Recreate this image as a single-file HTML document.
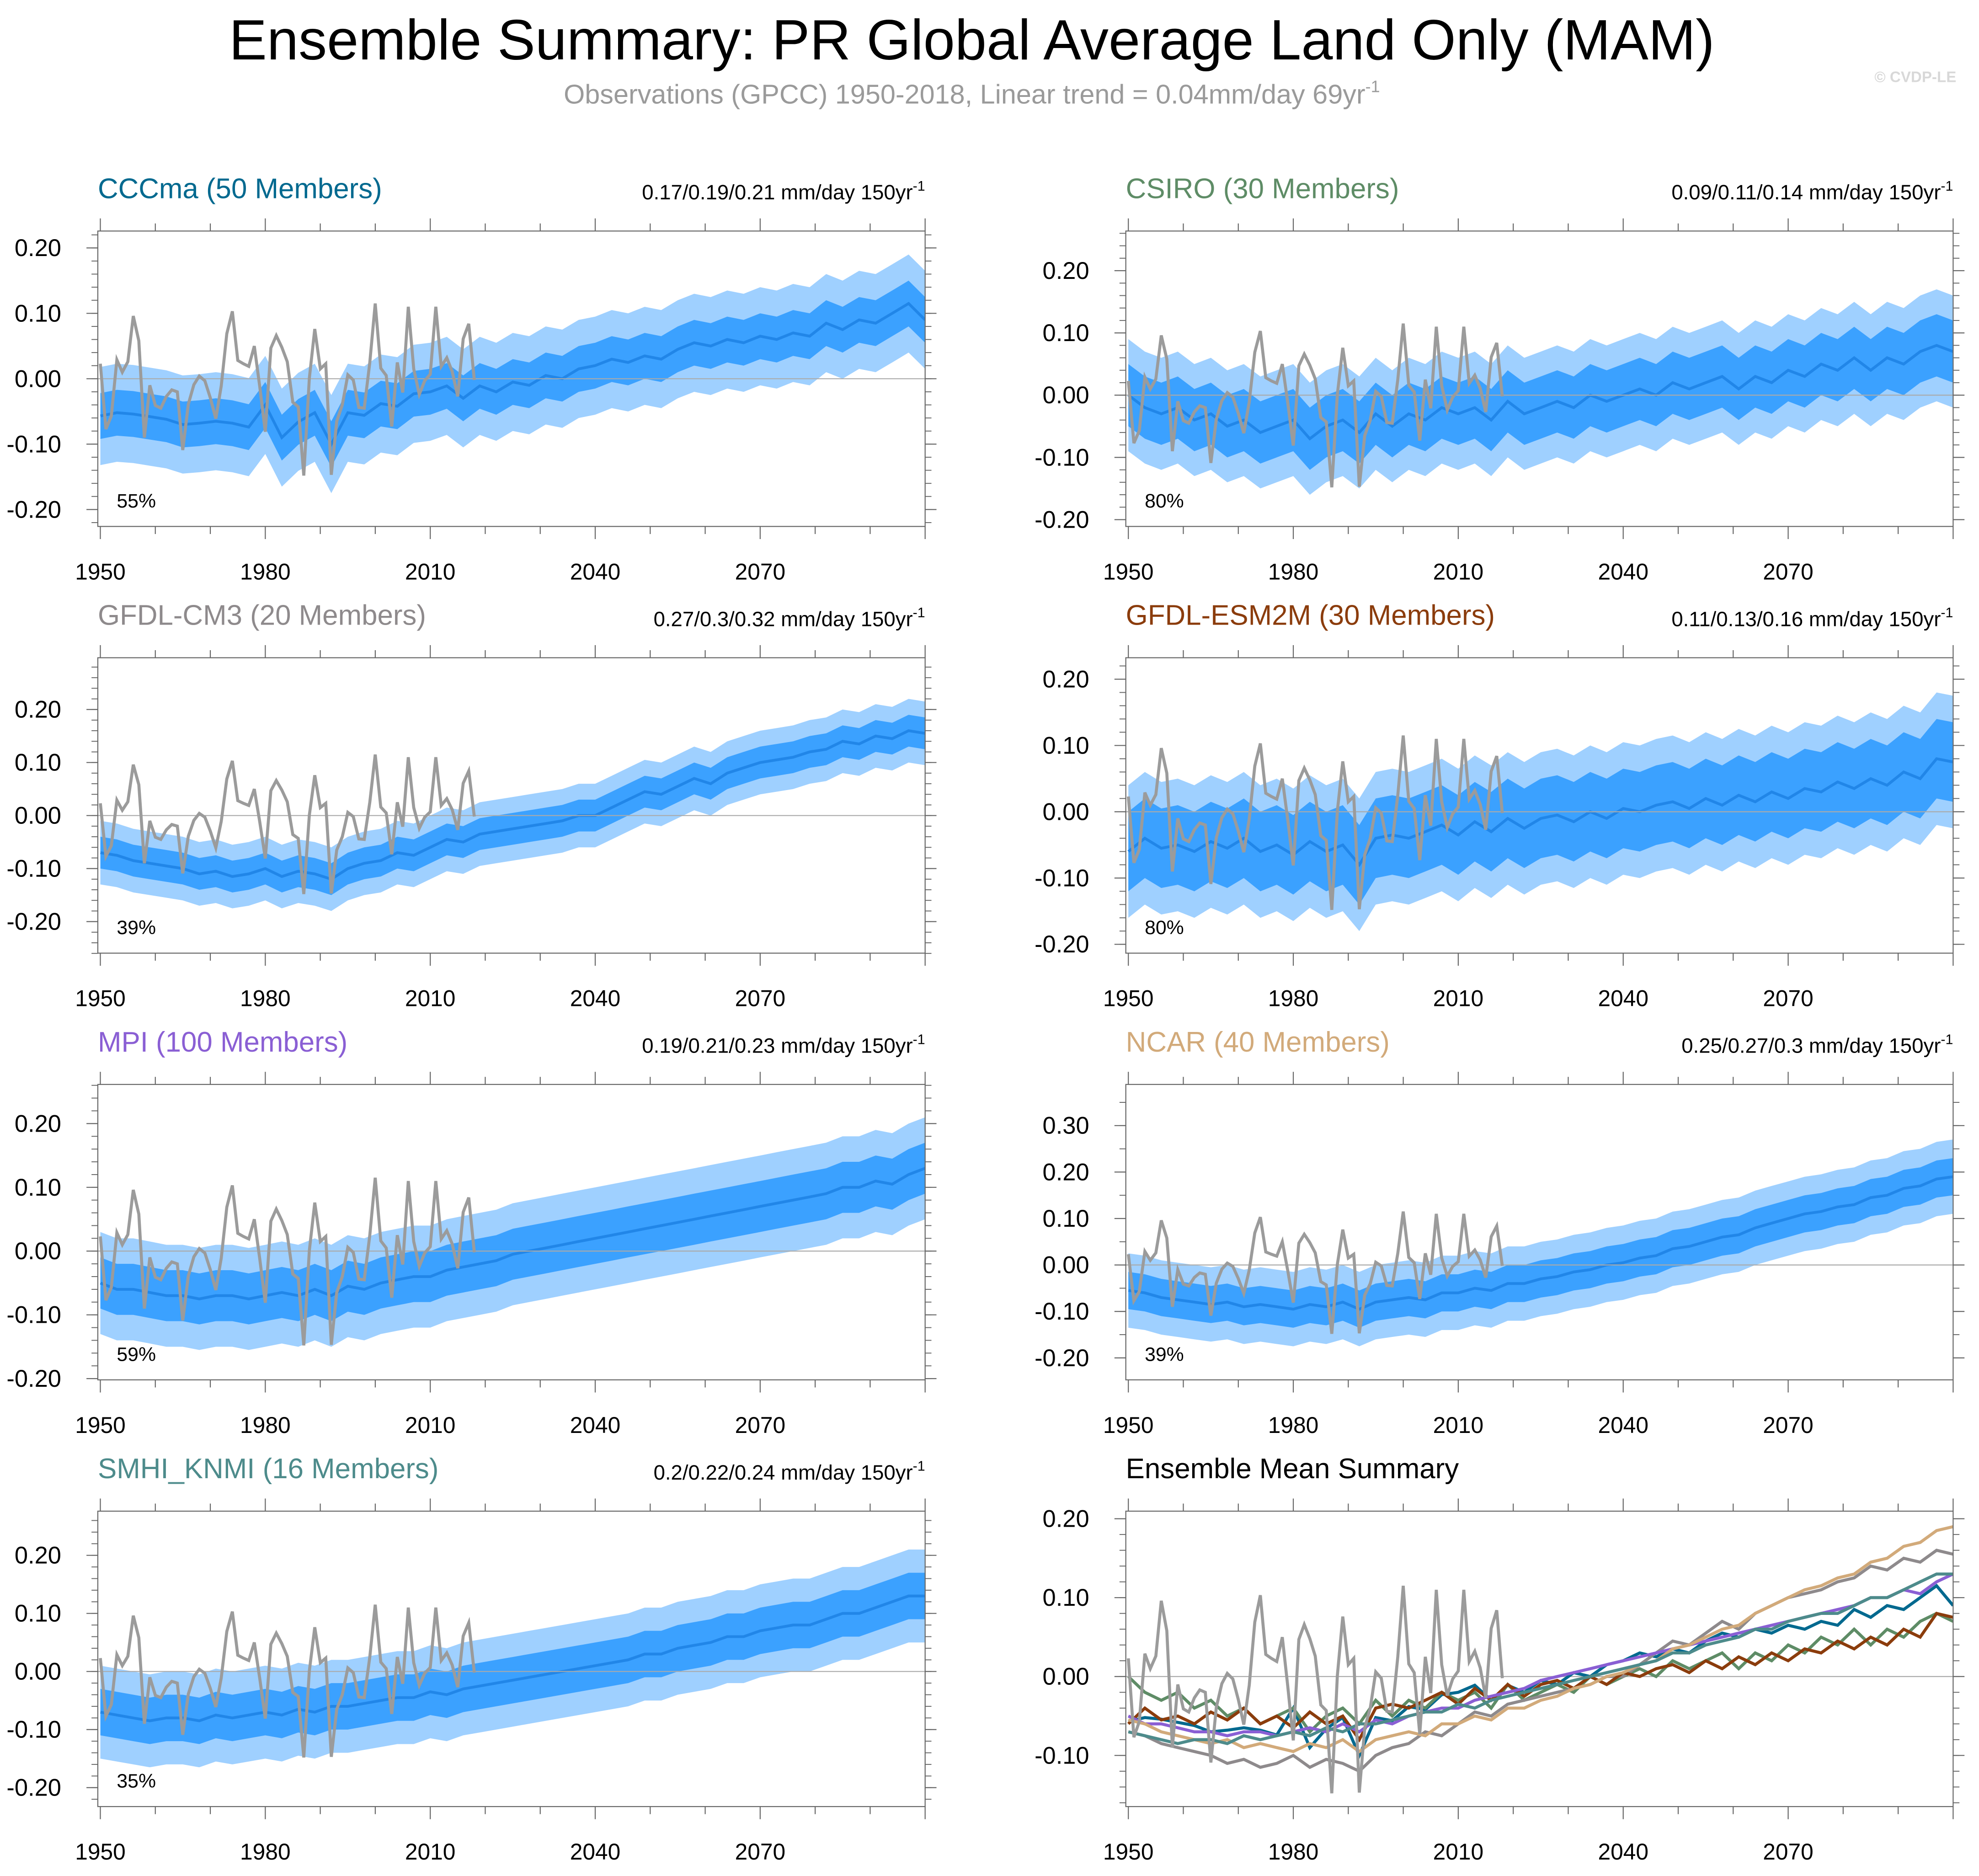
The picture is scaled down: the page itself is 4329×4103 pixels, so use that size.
<!DOCTYPE html>
<html><head><meta charset="utf-8"><title>Ensemble Summary: PR Global Average Land Only (MAM)</title>
<style>html,body{margin:0;padding:0;background:#fff;}svg{display:block;font-family:"Liberation Sans",Arial,sans-serif;}</style>
</head><body>
<svg id="chart" width="4329" height="4103" viewBox="0 0 1568 1486" preserveAspectRatio="none" xmlns="http://www.w3.org/2000/svg">
<text x="770" y="47" font-size="45" text-anchor="middle" fill="#000">Ensemble Summary: PR Global Average Land Only (MAM)</text>
<text x="770" y="82" font-size="21.5" text-anchor="middle" fill="#9a9a9a">Observations (GPCC) 1950-2018, Linear trend = 0.04mm/day 69yr<tspan font-size="13" dy="-9">-1</tspan></text>
<text x="1550" y="65" font-size="12" font-weight="bold" text-anchor="end" fill="#d8d8d8">© CVDP-LE</text>
</svg>
<script>
const obsValues=[0.023,-0.077,-0.057,0.029,0.010,0.026,0.096,0.058,-0.090,-0.010,
-0.041,-0.045,-0.027,-0.017,-0.020,-0.109,-0.039,-0.009,0.004,-0.003,
-0.029,-0.061,-0.011,0.069,0.103,0.028,0.023,0.019,0.050,-0.012,
-0.081,0.047,0.066,0.048,0.026,-0.036,-0.043,-0.148,0.001,0.076,
0.015,0.023,-0.147,-0.065,-0.040,0.006,-0.002,-0.044,-0.045,0.025,
0.115,0.016,0.005,-0.073,0.025,-0.021,0.110,0.015,-0.024,-0.003,
0.007,0.110,0.019,0.032,0.011,-0.027,0.061,0.084,-0.002];
const modelNames=["CCCma (50 Members)","CSIRO (30 Members)","GFDL-CM3 (20 Members)","GFDL-ESM2M (30 Members)","MPI (100 Members)","NCAR (40 Members)","SMHI_KNMI (16 Members)"];
const trendLabels=["0.17/0.19/0.21 mm/day 150yr","0.09/0.11/0.14 mm/day 150yr","0.27/0.3/0.32 mm/day 150yr","0.11/0.13/0.16 mm/day 150yr","0.19/0.21/0.23 mm/day 150yr","0.25/0.27/0.3 mm/day 150yr","0.2/0.22/0.24 mm/day 150yr"];
const pctLabels=["55%","80%","39%","80%","59%","39%","35%"];
const meanCCCma=[-0.057,-0.052,-0.054,-0.058,-0.062,-0.070,-0.068,-0.065,-0.068,-0.074,-0.040,-0.090,-0.066,-0.052,-0.100,-0.052,-0.056,-0.038,-0.042,-0.023,-0.020,-0.011,-0.030,-0.011,-0.020,-0.005,-0.010,0.005,0.000,0.015,0.020,0.030,0.025,0.035,0.030,0.045,0.055,0.050,0.060,0.055,0.065,0.060,0.070,0.065,0.085,0.075,0.090,0.085,0.100,0.115,0.090];
const meanCSIRO=[0.000,-0.020,-0.030,-0.020,-0.040,-0.030,-0.050,-0.040,-0.060,-0.050,-0.040,-0.070,-0.050,-0.040,-0.060,-0.030,-0.050,-0.030,-0.040,-0.020,-0.030,-0.020,-0.040,-0.010,-0.030,-0.020,-0.010,-0.020,0.000,-0.010,0.000,0.010,0.000,0.020,0.010,0.020,0.030,0.010,0.030,0.020,0.040,0.030,0.050,0.040,0.060,0.040,0.060,0.050,0.070,0.080,0.070];
const meanGFDLCM3=[-0.070,-0.075,-0.085,-0.090,-0.095,-0.100,-0.110,-0.105,-0.115,-0.110,-0.100,-0.115,-0.105,-0.110,-0.120,-0.100,-0.090,-0.085,-0.070,-0.075,-0.060,-0.045,-0.050,-0.035,-0.030,-0.025,-0.020,-0.015,-0.010,0.000,0.000,0.015,0.030,0.045,0.040,0.055,0.070,0.060,0.080,0.090,0.100,0.105,0.110,0.120,0.125,0.140,0.135,0.150,0.145,0.160,0.155];
const meanGFDLESM2M=[-0.060,-0.040,-0.055,-0.050,-0.060,-0.045,-0.055,-0.040,-0.060,-0.050,-0.065,-0.045,-0.060,-0.050,-0.080,-0.040,-0.035,-0.040,-0.030,-0.020,-0.035,-0.015,-0.030,-0.010,-0.025,-0.010,-0.005,-0.015,0.000,-0.010,0.005,0.000,0.010,0.015,0.005,0.020,0.010,0.025,0.015,0.030,0.020,0.035,0.030,0.045,0.035,0.050,0.040,0.060,0.050,0.080,0.075];
const meanMPI=[-0.050,-0.060,-0.060,-0.065,-0.070,-0.070,-0.075,-0.070,-0.070,-0.075,-0.070,-0.065,-0.070,-0.060,-0.070,-0.055,-0.060,-0.050,-0.045,-0.040,-0.040,-0.030,-0.025,-0.020,-0.015,-0.005,0.000,0.005,0.010,0.015,0.020,0.025,0.030,0.035,0.040,0.045,0.050,0.055,0.060,0.065,0.070,0.075,0.080,0.085,0.090,0.100,0.100,0.110,0.105,0.120,0.130];
const meanNCAR=[-0.055,-0.060,-0.070,-0.075,-0.080,-0.085,-0.080,-0.090,-0.085,-0.090,-0.095,-0.085,-0.090,-0.080,-0.095,-0.080,-0.075,-0.070,-0.075,-0.060,-0.060,-0.050,-0.055,-0.040,-0.040,-0.030,-0.025,-0.015,-0.010,0.000,0.005,0.015,0.020,0.035,0.040,0.050,0.060,0.065,0.080,0.090,0.100,0.110,0.115,0.125,0.130,0.145,0.150,0.165,0.170,0.185,0.190];
const meanSMHI=[-0.070,-0.075,-0.080,-0.085,-0.080,-0.080,-0.085,-0.075,-0.080,-0.075,-0.070,-0.075,-0.065,-0.070,-0.060,-0.060,-0.055,-0.050,-0.045,-0.045,-0.035,-0.040,-0.030,-0.025,-0.020,-0.015,-0.010,-0.005,0.000,0.005,0.010,0.015,0.020,0.030,0.030,0.040,0.045,0.050,0.060,0.060,0.070,0.075,0.080,0.080,0.090,0.100,0.100,0.110,0.120,0.130,0.130];
const innerSpread=[0.035,0.05,0.03,0.06,0.04,0.04,0.04];
const outerSpread=[0.075,0.09,0.06,0.10,0.08,0.08,0.08];
const yTickLabels=[[0.2,0.1,0,-0.1,-0.2],[0.2,0.1,0,-0.1,-0.2],[0.2,0.1,0,-0.1,-0.2],[0.2,0.1,0,-0.1,-0.2],[0.2,0.1,0,-0.1,-0.2],[0.3,0.2,0.1,0,-0.1,-0.2],[0.2,0.1,0,-0.1,-0.2],[0.2,0.1,0,-0.1]];
const xTickLabels=[1950,1980,2010,2040,2070];
const means=[meanCCCma,meanCSIRO,meanGFDLCM3,meanGFDLESM2M,meanMPI,meanNCAR,meanSMHI];
const modelColors=["#00698f","#5e8c66","#8e8a8c","#8b3c0c","#8a5fd4","#d2aa7a","#4d8b8b"];
// layout (not data)
const panelLeft=[77.5,892,77.5,892,77.5,892,77.5,892];
const panelTop=[183,183,521,521,859,859,1197,1197];
const panelZero=[300,313,646,643,991,1002,1324,1328];
const panelScale=[518,493,420,525,505,368,460,625];
const PW=655.5,PH=234;
const NS='http://www.w3.org/2000/svg';
const svg=document.getElementById('chart');
function mk(tag,attrs,parent){const e=document.createElementNS(NS,tag);for(const k in attrs)e.setAttribute(k,attrs[k]);(parent||svg).appendChild(e);return e;}
function fmt(v){return (v<0?'-':'')+Math.abs(v).toFixed(2);}
function buildPanel(p){
  const g=mk('g',{});
  
  
  const L=panelLeft[p],T=panelTop[p];
  const xs=y=>L+2+(y-1950)*(PW-2)/150;
  const ys=v=>panelZero[p]-v*panelScale[p];
  const clip=mk('clipPath',{id:'clip'+p},g);mk('rect',{x:L,y:T,width:PW,height:PH},clip);
  const plot=mk('g',{'clip-path':'url(#clip'+p+')'},g);
  
  
  if(p<7){
    const m=means[p];
    const yrs=m.map((_,i)=>1950+i*3);
    [[outerSpread[p],'#9fd0ff','outer-spread-band'],[innerSpread[p],'#3ba1ff','inner-spread-band']].forEach(([s,c,n])=>{
      let d='M'+yrs.map((y,i)=>xs(y).toFixed(1)+','+ys(m[i]+s).toFixed(1)).join('L');
      for(let i=m.length-1;i>=0;i--)d+='L'+xs(yrs[i]).toFixed(1)+','+ys(m[i]-s).toFixed(1);
      const b=mk('path',{d:d+'Z',fill:c},plot);
      
      
    });
    const ml=mk('path',{d:'M'+yrs.map((y,i)=>xs(y).toFixed(1)+','+ys(m[i]).toFixed(1)).join('L'),fill:'none',stroke:'#2186e8','stroke-width':2.2},plot);
    
    
  }
  const z=mk('line',{x1:L,x2:L+PW,y1:ys(0),y2:ys(0),stroke:'#aaa','stroke-width':0.8},plot);
  
  
  if(p===7){
    means.forEach((m,k)=>{
      const yrs=m.map((_,i)=>1950+i*3);
      const l=mk('path',{d:'M'+yrs.map((y,i)=>xs(y).toFixed(1)+','+ys(m[i]).toFixed(1)).join('L'),fill:'none',stroke:modelColors[k],'stroke-width':2.4},plot);
      
      
    });
  }
  const ob=mk('path',{d:'M'+obsValues.map((v,i)=>xs(1950+i).toFixed(1)+','+ys(v).toFixed(1)).join('L'),fill:'none',stroke:'#9b9b9b','stroke-width':2.4},plot);
  
  
  const fr=mk('rect',{x:L,y:T,width:PW,height:PH,fill:'none',stroke:'#666','stroke-width':0.8},g);
  
  
  for(let y=1950;y<=2100;y+=10){
    const major=(y-1950)%30===0,len=major?10:6;
    mk('line',{x1:xs(y),x2:xs(y),y1:T,y2:T-len,stroke:'#666','stroke-width':0.8},g);
    mk('line',{x1:xs(y),x2:xs(y),y1:T+PH,y2:T+PH+len,stroke:'#666','stroke-width':0.8},g);
  }
  xTickLabels.forEach(y=>{const t=mk('text',{x:xs(y),y:T+PH+42,'font-size':18,'text-anchor':'middle'},g);t.textContent=y;
    
    });
  const step=p===5?0.05:0.02;
  for(let v=-0.4;v<=0.4001;v+=step){const yy=ys(v);if(yy<T-0.5||yy>T+PH+0.5)continue;
    mk('line',{x1:L,x2:L-5,y1:yy,y2:yy,stroke:'#666','stroke-width':0.7},g);
    mk('line',{x1:L+PW,x2:L+PW+5,y1:yy,y2:yy,stroke:'#666','stroke-width':0.7},g);}
  yTickLabels[p].forEach(v=>{const yy=ys(v);
    mk('line',{x1:L,x2:L-9,y1:yy,y2:yy,stroke:'#666','stroke-width':0.8},g);
    mk('line',{x1:L+PW,x2:L+PW+9,y1:yy,y2:yy,stroke:'#666','stroke-width':0.8},g);
    const t=mk('text',{x:L-29,y:yy+6.5,'font-size':19,'text-anchor':'end'},g);t.textContent=fmt(v);
    
    });
  const title=mk('text',{x:L,y:T-26,'font-size':22.4,fill:p<7?modelColors[p]:'#000'},g);
  title.textContent=p<7?modelNames[p]:'Ensemble Mean Summary';
  
  
  if(p<7){
    const tr=mk('text',{x:L+PW,y:T-25,'font-size':16.5,'text-anchor':'end'},g);
    tr.textContent=trendLabels[p];
    const sup=mk('tspan',{'font-size':11,dy:-7},tr);sup.textContent='-1';
    
    
    const pc=mk('text',{x:L+15,y:T+PH-15,'font-size':15.5},g);pc.textContent=pctLabels[p];
    
    
  }
}
for(let p=0;p<8;p++)buildPanel(p);
</script>
</body></html>
